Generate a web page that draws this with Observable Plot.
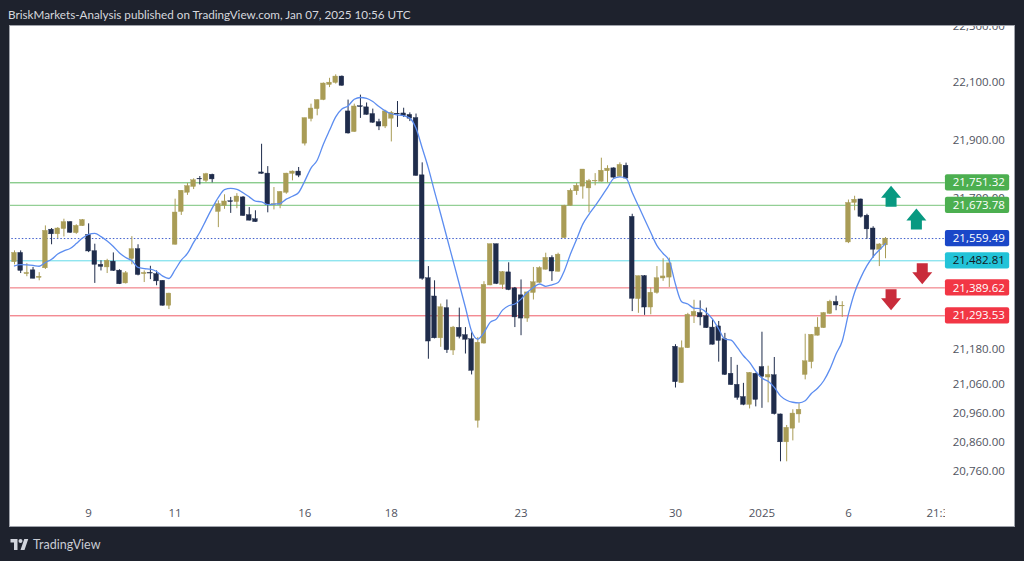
<!DOCTYPE html>
<html><head><meta charset="utf-8">
<script src="https://cdn.jsdelivr.net/npm/d3@7"></script>
<script src="https://cdn.jsdelivr.net/npm/@observablehq/plot@0.6"></script>
<style>
html,body{margin:0;padding:0;width:1024px;height:561px;overflow:hidden;background:#1e222d;font-family:"Open Sans",sans-serif}
#head{position:absolute;left:8px;top:7px;font-family:Lato,sans-serif;font-size:11.7px;color:#d6d8de;white-space:nowrap}
#frame{position:absolute;left:10px;top:26px;width:1004px;height:500px;background:#fff;box-shadow:0 0 0 1px #a0a3ab;overflow:hidden}
#frame svg{display:block}
#foot{position:absolute;left:10px;top:536px;height:16px;display:flex;align-items:center;color:#c9ccd4;font-family:Lato,sans-serif;font-size:12.5px}
#foot svg{margin-right:4px}
</style></head><body>
<div id="head">BriskMarkets-Analysis published on TradingView.com, Jan 07, 2025 10:56 UTC</div>
<div id="frame"></div>
<div id="foot"><svg width="19" height="11" viewBox="0 0 36 22"><path fill="#d1d4dc" d="M14 22H7V7H0V0h14zM28 22h-8l7.5-22h8z"/><circle fill="#d1d4dc" cx="20" cy="4" r="4"/></svg>TradingView</div>
<script>
const opens=[21478,21510,21437,21450,21424,21457,21590,21574,21592,21616,21578,21602,21572,21516,21469,21460,21480,21449,21405,21489,21523,21437,21441,21437,21414,21328,21538,21651,21717,21737,21765,21758,21779,21651,21672,21688,21685,21701,21640,21626,21787,21783,21675,21675,21717,21782,21790,21886,21971,22005,22036,22088,22095,22117,
21997,21926,22015,22011,21988,21960,21945,21972,21989,21990,21985,21974,21777,21423,21360,21216,21320,21174,21252,21227,21213,20932,21198,21398,21540,21400,21443,21388,21364,21284,21372,21407,21452,21493,21445,21561,21672,21722,21738,21732,21756,21755,21791,21801,21772,21810,
21634,21351,21430,21322,21372,21422,21425,21187,21062,21182,21292,21303,21292,21253,21257,21213,21094,21056,21014,20987,21094,21117,21081,21089,20954,20858,20905,20954,21090,21134,21225,21251,21300,21341,21326,21546,21682,21694,21638,21594,21521,21536];
const highs=[21517,21517,21473,21460,21442,21603,21594,21597,21626,21618,21607,21625,21610,21540,21483,21488,21510,21452,21446,21566,21538,21448,21464,21448,21414,21371,21695,21724,21749,21765,21773,21784,21781,21689,21710,21701,21714,21704,21666,21655,21884,21807,21735,21721,21784,21792,21804,21974,22022,22037,22095,22111,22123,22119,
22036,22022,22053,22026,22005,21970,22001,21997,22031,22008,21992,21988,21820,21463,21414,21334,21348,21257,21320,21253,21235,21219,21411,21540,21540,21446,21476,21391,21417,21375,21460,21462,21509,21500,21509,21674,21730,21749,21797,21763,21783,21836,21810,21803,21820,21819,
21643,21430,21432,21389,21463,21490,21492,21194,21207,21302,21347,21345,21320,21279,21274,21233,21150,21123,21061,21098,21096,21237,21120,21150,20955,20916,20970,20991,21230,21229,21287,21305,21347,21361,21342,21692,21705,21695,21643,21600,21542,21563];
const lows=[21469,21439,21428,21421,21414,21453,21538,21559,21565,21577,21574,21601,21511,21405,21448,21439,21446,21401,21403,21469,21431,21408,21418,21397,21327,21315,21537,21639,21708,21728,21744,21752,21751,21597,21660,21646,21662,21636,21620,21615,21781,21648,21658,21662,21712,21758,21769,21878,21961,21982,22034,22079,22091,22084,
21919,21925,21973,21984,21956,21931,21938,21892,21942,21976,21962,21774,21416,21144,21214,21185,21164,21157,21214,21162,21090,20907,21196,21397,21401,21384,21380,21253,21225,21271,21348,21405,21451,21412,21444,21560,21671,21708,21695,21648,21741,21754,21751,21767,21770,21765,
21308,21302,21295,21297,21368,21412,21391,21045,21061,21181,21267,21259,21250,21193,21134,21088,21054,21003,20984,20973,20980,20975,20994,20952,20791,20791,20863,20924,21073,21111,21224,21250,21298,21311,21288,21542,21655,21630,21557,21492,21463,21490];
const closes=[21510,21448,21441,21421,21428,21586,21574,21594,21616,21579,21603,21623,21515,21469,21462,21483,21448,21402,21440,21523,21434,21441,21439,21412,21328,21370,21649,21724,21740,21760,21763,21781,21763,21678,21687,21685,21704,21637,21621,21616,21782,21675,21678,21720,21783,21790,21776,21974,22007,22036,22093,22096,22117,22085,
21921,22014,22012,21985,21958,21945,21997,21992,21987,21981,21972,21775,21421,21205,21216,21323,21175,21253,21221,21211,21104,21201,21400,21540,21403,21444,21382,21288,21284,21374,21409,21458,21493,21446,21504,21672,21724,21741,21797,21757,21758,21793,21800,21769,21813,21766,
21352,21430,21322,21373,21423,21429,21474,21065,21182,21297,21307,21288,21251,21194,21207,21090,21055,21011,20987,21097,21004,21084,21090,20955,20858,20908,20957,20970,21137,21228,21253,21303,21342,21329,21328,21682,21693,21634,21591,21521,21539,21559];
const ma=[21465,21470,21469,21467,21464,21477,21488,21506,21517,21525,21542,21561,21574,21577,21566,21551,21532,21510,21494,21483,21460,21456,21454,21446,21430,21422,21452,21485,21508,21546,21581,21623,21664,21701,21728,21732,21729,21717,21703,21688,21686,21676,21678,21680,21695,21705,21718,21758,21802,21829,21884,21932,21978,22005,
22016,22039,22045,22042,22031,22014,21999,21989,21985,21982,21974,21939,21871,21802,21721,21643,21563,21483,21403,21322,21240,21213,21236,21271,21282,21313,21328,21334,21351,21374,21391,21403,21395,21400,21408,21448,21506,21557,21609,21643,21672,21703,21735,21766,21772,21767,
21718,21672,21626,21580,21535,21508,21483,21402,21342,21334,21320,21318,21305,21282,21248,21213,21210,21185,21156,21133,21102,21079,21068,21047,21018,21003,20996,20994,21001,21026,21044,21070,21110,21162,21207,21299,21374,21425,21466,21497,21520,21542];

const levels=[21751.32,21673.78,21559.49,21482.81,21389.62,21293.53];
const levelLabels=["21,751.32","21,673.78","21,559.49","21,482.81","21,389.62","21,293.53"];
const levelLine=["#5ab75e","#93cf95","#3f5ecb","#62dbe8","#ee6a72","#ee5a66"];
const levelBox=["#4caf50","#4caf50","#1a47c8","#22c3d8","#f23645","#f23645"];
const levelText=["#fff","#fff","#fff","#131722","#fff","#fff"];
const dottedLevel=2;

const yTicks=[22295,22100,21900,21700,21500,21400,21180,21060,20960,20860,20760];
const yTickLabels=["22,300.00","22,100.00","21,900.00","21,700.00","21,500.00","21,400.00","21,180.00","21,060.00","20,960.00","20,860.00","20,760.00"];
const xTicks=[12,26,47,61,82,107,121,135,150];
const xTickLabels=["9","11","16","18","23","30","2025","6","21:30"];
const xTickBold=[0,0,0,0,0,0,1,0,0];

const upArrows=[[141.9,21705],[146,21627]];
const downArrows=[[146.95,21438],[141.9,21349]];

const GOLD="#a99c56",NAVY="#1f2c4b";
const idx=d3.range(opens.length);
const col=i=>closes[i]>=opens[i]?GOLD:NAVY;
const PANE=150.7, PANE_END=170, AXIS_X=156.1, BOX=161.1, HALF=28, XLABEL=20612;

const arrow=(dir)=>({draw(c,s){
  const k=dir;
  c.moveTo(0,-10.5*k); c.lineTo(10*k,1.5*k); c.lineTo(5.5*k,1.5*k); c.lineTo(5.5*k,10.5*k);
  c.lineTo(-5.5*k,10.5*k); c.lineTo(-5.5*k,1.5*k); c.lineTo(-10*k,1.5*k); c.closePath();
}});

const solid=levels.map((v,i)=>i).filter(i=>i!==dottedLevel);
const chart=Plot.plot({
  width:1004,height:500,margin:0,
  x:{type:"linear",domain:[0,141],range:[4,875],axis:null},
  y:{type:"linear",domain:[21751.32,21293.53],range:[156.3,289.3],axis:null},
  style:{background:"transparent",fontFamily:'"Open Sans",sans-serif'},
  marks:[
    Plot.ruleY(solid,{y:i=>levels[i],x1:-1,x2:PANE,stroke:i=>levelLine[i],strokeWidth:i=>i===1?1.4:1}),
    Plot.ruleY([dottedLevel],{y:i=>levels[i],x1:-1,x2:PANE,stroke:levelLine[dottedLevel],strokeWidth:1,strokeDasharray:"1.5,2"}),
    Plot.ruleX(idx,{x:i=>i,y1:i=>lows[i],y2:i=>highs[i],stroke:col,strokeWidth:1}),
    Plot.rect(idx,{x1:i=>i-0.38,x2:i=>i+0.38,y1:i=>opens[i],y2:i=>closes[i],fill:col,stroke:col,strokeWidth:0.4}),
    Plot.line(idx,{x:i=>i,y:i=>ma[i],stroke:"#5c8df0",strokeWidth:1.3,curve:"monotone-x"}),
    Plot.dot(upArrows,{x:d=>d[0],y:d=>d[1],symbol:arrow(1),fill:"#089981",stroke:"none",r:10}),
    Plot.dot(downArrows,{x:d=>d[0],y:d=>d[1],symbol:arrow(-1),fill:"#c92c3b",stroke:"none",r:10}),
    Plot.text(xTicks.map((v,i)=>i),{x:i=>xTicks[i],y:XLABEL,text:i=>xTickLabels[i],fill:"#50535e",fontSize:11.5,fontWeight:i=>xTickBold[i]?700:400}),
    Plot.rect([0],{x1:PANE,x2:PANE_END,y1:23000,y2:20000,fill:"#fff"}),
    Plot.text(yTicks.map((v,i)=>i),{x:AXIS_X,y:i=>yTicks[i],text:i=>yTickLabels[i],fill:"#50535e",fontSize:11.5,dy:1}),
    Plot.rect(levels.map((v,i)=>i),{x1:PANE,x2:BOX,y1:i=>levels[i]-HALF,y2:i=>levels[i]+HALF,fill:i=>levelBox[i],rx:2}),
    Plot.text(levels.map((v,i)=>i),{x:AXIS_X,y:i=>levels[i],text:i=>levelLabels[i],fill:i=>levelText[i],fontSize:11.5})
  ]
});
document.getElementById("frame").appendChild(chart);
</script>
</body></html>
